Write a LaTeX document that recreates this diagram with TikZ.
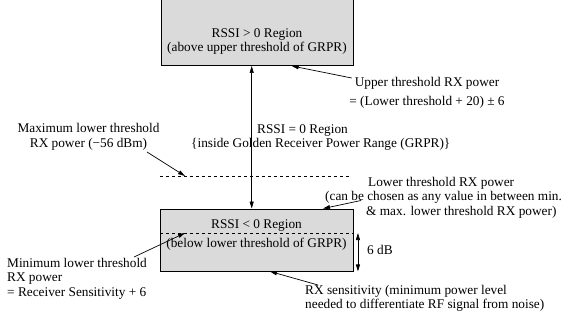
\documentclass[tikz,border=0pt]{standalone}
\usepackage{fontspec}
\setmainfont{Liberation Serif}
\usetikzlibrary{arrows.meta}
\definecolor{boxgray}{RGB}{218,218,218}
\begin{document}
\begin{tikzpicture}[x=1pt,y=-1pt,
  region/.style={draw=black, line width=0.9pt, fill=boxgray, inner sep=0pt},
  lbl/.style={inner sep=0pt, font=\fontsize{13.3}{14.5}\selectfont},
  ptr/.style={line width=0.7pt, -{Triangle[length=7pt,width=4pt]}},
  dptr/.style={line width=0.7pt, {Triangle[length=7pt,width=4pt]}-{Triangle[length=7pt,width=4pt]}},
  dashln/.style={line width=0.7pt, dash pattern=on 3pt off 3pt}]
\useasboundingbox (0,0) rectangle (567,327);

% regions
\node[region, minimum width=192pt, minimum height=68.5pt] (upper) at (257,31.25) {};
\node[region, minimum width=193pt, minimum height=62pt] (lower) at (257,240) {};

% texts inside regions
\node[lbl, align=center] (uppertxt) at (257,41.75) {\strut RSSI > 0 Region\\\strut (above upper threshold of GRPR)};
\node[lbl, align=center] (lowertxt) at (256.5,235) {\strut RSSI < 0 Region\\[4.5pt]\strut (below lower threshold of GRPR)};

% GRPR text
\node[lbl, align=left, anchor=west] (zerotxt) at (191,137.75) {\hspace*{66pt}\strut RSSI = 0 Region\\\strut\{inside Golden Receiver Power Range (GRPR)\}};

% dashed lines
\coordinate (maxL) at (160,176);
\coordinate (maxR) at (350,176);
\draw[dashln] (maxL) -- (maxR);
\draw[dashln] ([yshift=7pt]lower.west) -- ([yshift=7pt]lower.east);

% main double arrow
\draw[dptr] ([xshift=-5.3pt]upper.south) -- ([xshift=-5.3pt]lower.north);

% 6 dB arrow
\draw[dptr] ([xshift=4pt,yshift=7pt]lower.east) -- ([xshift=4pt]lower.south east);
\node[lbl, anchor=west] (sixdb) at (367,251.5) {\strut 6 dB};

% labels
\node[lbl, align=center] (maxlbl) at (88.5,137.25) {\strut Maximum lower threshold\\\strut RX power (−56 dBm)};
\node[lbl, align=center] (uplbl) at (427,93) {\strut Upper threshold RX power\\[4.5pt]\strut = (Lower threshold + 20) ± 6};
\node[lbl, align=left, anchor=west] (lowlbl) at (325,198) {\hspace*{43pt}\strut Lower threshold RX power\\\strut (can be chosen as any value in between min.\\\hspace*{41pt}\strut \& max. lower threshold RX power)};
\node[lbl, align=left, anchor=west] (minlbl) at (7,279) {\strut Minimum lower threshold\\\strut RX power\\\strut = Receiver Sensitivity + 6};
\node[lbl, align=left, anchor=west] (senslbl) at (305,298.75) {\strut RX sensitivity (minimum power level\\\strut needed to differentiate RF signal from noise)};

% pointer arrows
\coordinate (upstart) at (351.7,78);
\draw[ptr] (upstart) -- ([xshift=34.7pt]upper.south);
\coordinate (maxstart) at (147,152);
\draw[ptr] (maxstart) -- ([xshift=25pt]maxL);
\coordinate (lowstart) at (361,200.5);
\draw[ptr] (lowstart) -- ([xshift=66pt]lower.north);
\coordinate (minstart) at (134,257);
\draw[ptr] (minstart) -- ([xshift=-72pt,yshift=7pt]lower.center);
\coordinate (sensstart) at (318,285);
\draw[ptr] (sensstart) -- ([xshift=13pt]lower.south);
\end{tikzpicture}
\end{document}
